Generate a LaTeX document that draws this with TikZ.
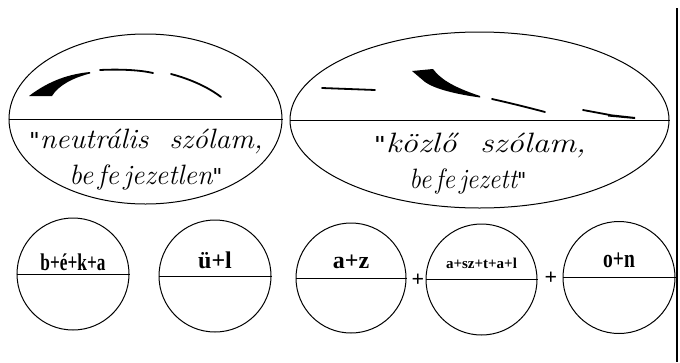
\documentclass[tikz,border=0pt]{standalone}
\usepackage{fontspec}
\newfontfamily\tms{Liberation Serif}
\newfontfamily\dv{DejaVu Sans}[Ligatures=TeXOff]
\newcommand\qq{{\dv\fontsize{22}{26}\selectfont"}}
\usetikzlibrary{shapes.geometric}
\begin{document}
\begin{tikzpicture}[x=1pt,y=-1pt,
  oval/.style={ellipse,draw,line width=1pt,inner sep=0pt},
  disc/.style={circle,draw,line width=1pt,inner sep=0pt},
  mid/.style={line width=1pt},
  hand/.style={font=\fontsize{28}{32}\selectfont\itshape\addfontfeature{LetterSpace=6}},
  syl/.style={font=\tms\fontsize{24}{28}\selectfont\bfseries},
  contour/.style={line width=1.8pt,line cap=round},
  plus/.style={font=\tms\fontsize{22}{24}\selectfont\bfseries,inner sep=0pt}]
\useasboundingbox (0,0) rectangle (680,362);
% ellipses
\node[oval,minimum width=273pt,minimum height=170pt] (e1) at (145.5,119) {};
\node[oval,minimum width=379pt,minimum height=176pt] (e2) at (479.5,120) {};
\draw[mid] (e1.west) -- (e1.east);
\draw[mid] (e2.west) -- (e2.east);
\node[hand,xscale=1.06] (t1a) at (146,141) {\qq neutrális\ \ szólam,};
\node[hand] (t1b) at (146,177) {be\,fe\,jezetlen\qq};
\node[hand,xscale=1.2] (t2a) at (480,145) {\qq közlő\ \ szólam,};
\node[hand,xscale=0.92] (t2b) at (468,181) {be\,fe\,jezett\qq};
% contours left
\fill (29,96) .. controls (50,80) and (70,74) .. (90,72) -- (90,73.5) .. controls (72,78) and (58,86) .. (52,96) -- cycle;
\draw[contour] (100,70) .. controls (120,69) and (140,70) .. (153,73);
\draw[contour] (171,74) .. controls (190,79) and (208,87) .. (221,97);
% contours right
\draw[contour] (322,88) -- (375,90);
\fill (412,71) -- (433,69) .. controls (440,78) and (450,86) .. (480,96) -- (480,97.5) .. controls (455,94) and (435,89) .. (425,82) -- cycle;
\draw[contour] (492,99) .. controls (510,103) and (530,108) .. (545,112);
\draw[contour] (583,110) -- (610,115);
\fill (608,114) -- (635,117) -- (635,119) -- (608,116.5) -- cycle;
% circles
\node[disc,minimum size=112pt] (c1) at (73,274) {};
\node[disc,minimum size=112pt] (c2) at (215,276) {};
\node[disc,minimum size=110pt] (c3) at (351,278) {};
\node[disc,minimum size=111pt] (c4) at (481.5,279.5) {};
\node[disc,minimum size=112pt] (c5) at (619,277.5) {};
\foreach \c in {c1,c2,c3,c4,c5}{\draw[mid] (\c.west) -- (\c.east);}
\node[syl,xscale=0.72] (s1) at (73,262) {b+é+k+a};
\node[syl] (s2) at (215,260) {ü+l};
\node[syl] (s3) at (351,262) {a+z};
\node[font=\tms\fontsize{15}{17}\selectfont\bfseries,xscale=1.0] (s4) at (481.5,263) {a+sz+t+a+l};
\node[font=\tms\fontsize{26}{30}\selectfont\bfseries,xscale=0.75] (s5) at (619,260) {o+n};
\node[plus] (p1) at (418,280) {+};
\node[plus] (p2) at (551,278) {+};
% right border line
\coordinate (vt) at (677,8);
\coordinate (vb) at (677,362);
\draw[line width=1.5pt] (vt) -- (vb);
\end{tikzpicture}
\end{document}
